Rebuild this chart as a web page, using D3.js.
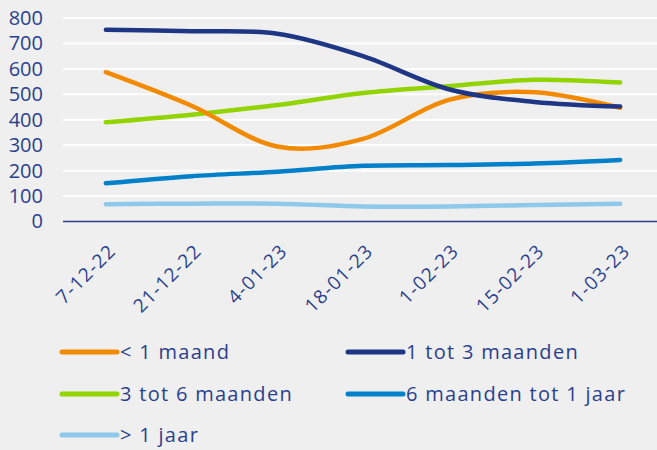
<!DOCTYPE html>
<html><head><meta charset="utf-8">
<script src="https://cdn.jsdelivr.net/npm/d3@7"></script>
<style>body{margin:0;background:#efefef}svg{display:block}</style>
</head><body>
<svg id="chart" width="657" height="450"></svg>
<script>
const categories = ["7-12-22","21-12-22","4-01-23","18-01-23","1-02-23","15-02-23","1-03-23"];
const seriesNames = ["< 1 maand","1 tot 3 maanden","3 tot 6 maanden","6 maanden tot 1 jaar","> 1 jaar"];
const lt1Maand   = [587, 455, 295, 325, 478, 508, 447];
const m1tot3     = [754, 748, 738, 650, 520, 470, 452];
const m3tot6     = [390, 420, 458, 505, 532, 557, 546];
const m6tot1jaar = [150, 178, 196, 219, 222, 228, 242];
const gt1Jaar    = [68, 70, 70, 59, 59, 65, 70];
const yTicks = [0,100,200,300,400,500,600,700,800];
const colors = ["#f28a00","#1f3685","#92d400","#0080c9","#8ec8ea"];

const series = [lt1Maand, m1tot3, m3tot6, m6tot1jaar, gt1Jaar];
const textColor = "#2b3f8e";
const font = "'Open Sans', sans-serif";

const svg = d3.select("#chart");
svg.append("rect").attr("width",657).attr("height",450).attr("fill","#efefef");

const plotL = 63, plotR = 657;
const x = d3.scalePoint().domain(categories).range([63, 663]).padding(0.5);
const y = d3.scaleLinear().domain([0,800]).range([221.5, 18]);

// gridlines
svg.append("g").selectAll("line").data(yTicks.filter(d=>d>0)).join("line")
  .attr("x1",plotL).attr("x2",plotR)
  .attr("y1",d=>y(d)).attr("y2",d=>y(d))
  .attr("stroke","#ffffff").attr("stroke-width",2);

// y axis labels
const yAxis = svg.append("g").attr("transform",`translate(${plotL},0)`)
  .call(d3.axisLeft(y).tickValues(yTicks).tickSize(0).tickPadding(20));
yAxis.select(".domain").remove();
yAxis.selectAll("text").attr("font-family",font).attr("font-size",20).attr("fill",textColor);

// baseline
svg.append("line").attr("x1",plotL).attr("x2",plotR).attr("y1",y(0)).attr("y2",y(0))
  .attr("stroke","#2b3f8e").attr("stroke-width",1.5);

// x axis labels
const xAxis = svg.append("g").attr("transform",`translate(0,${y(0)})`)
  .call(d3.axisBottom(x).tickSize(0).tickPadding(0));
xAxis.select(".domain").remove();
xAxis.selectAll("text")
  .attr("font-family",font).attr("font-size",19).attr("fill",textColor)
  .attr("letter-spacing","1.2px")
  .attr("text-anchor","end")
  .attr("transform","translate(6,26) rotate(-45)")
  .attr("dy","0.35em");

// lines
const line = d3.line().x((d,i)=>x(categories[i])).y(d=>y(d)).curve(d3.curveCatmullRom.alpha(0));
const drawOrder = [4,3,2,0,1];
drawOrder.forEach(k=>{
  svg.append("path").datum(series[k]).attr("d",line)
    .attr("fill","none").attr("stroke",colors[k]).attr("stroke-width",4.5)
    .attr("stroke-linecap","round").attr("stroke-linejoin","round");
});

// legend
const legendPos = [[62,352],[348,352],[62,394],[348,394],[62,435]];
const lg = svg.append("g");
seriesNames.forEach((name,i)=>{
  const [lx,ly] = legendPos[i];
  lg.append("line").attr("x1",lx).attr("x2",lx+55).attr("y1",ly).attr("y2",ly)
    .attr("stroke",colors[i]).attr("stroke-width",5).attr("stroke-linecap","round");
  lg.append("text").attr("x",lx+58).attr("y",ly).attr("dy","0.35em")
    .attr("font-family",font).attr("font-size",20).attr("letter-spacing","1.3px")
    .attr("fill",textColor).text(name);
});
</script>
</body></html>
